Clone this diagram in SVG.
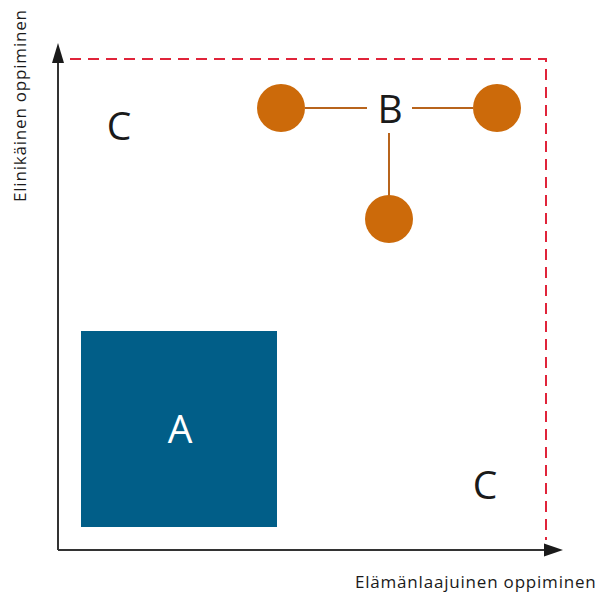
<svg xmlns="http://www.w3.org/2000/svg" width="598" height="596" viewBox="0 0 598 596">
  <style>
    .axis { stroke: #333333; stroke-width: 2; fill: none; }
    .bound { stroke: #e0243a; stroke-width: 2; stroke-dasharray: 11 7; fill: none; }
    .link { stroke: #b8641c; stroke-width: 2; }
    .dot { fill: #cc6a0a; }
    .lbl { font-family: "Open Sans", "Liberation Sans", sans-serif; fill: #1a1a1a; }
    .big { font-size: 39px; text-anchor: middle; }
    .ax { font-size: 17px; letter-spacing: 0.8px; }
  </style>
  <rect width="598" height="596" fill="#ffffff"/>

  <!-- boundary of region C -->
  <path class="bound" d="M70,59 H546 V540"/>

  <!-- axes -->
  <g id="axes">
    <path d="M58,550 V62" class="axis"/>
    <path d="M52,63 L58,43 L64,63 z" fill="#1a1a1a"/>
    <path d="M58,550 H546" class="axis"/>
    <path d="M544,543.5 L563,550 L544,556.5 z" fill="#1a1a1a"/>
  </g>

  <text class="lbl ax" transform="translate(26,202) rotate(-90)">Elinikäinen oppiminen</text>
  <text class="lbl ax" x="355" y="588">Elämänlaajuinen oppiminen</text>

  <!-- region A -->
  <g id="nodeA">
    <rect x="81" y="331" width="196" height="196" fill="#015e88"/>
    <text class="lbl big" x="180" y="443" style="fill:#ffffff">A</text>
  </g>

  <!-- region C labels -->
  <g id="nodeC1"><text class="lbl big" x="119" y="140">C</text></g>
  <g id="nodeC2"><text class="lbl big" x="485" y="499">C</text></g>

  <!-- connectors of B -->
  <g id="connectors">
    <line class="link" x1="305" y1="108" x2="367" y2="108"/>
    <line class="link" x1="412" y1="108" x2="473" y2="108"/>
    <line class="link" x1="389" y1="133" x2="389" y2="196"/>
  </g>

  <g id="nodeB"><text class="lbl big" x="390" y="123">B</text></g>
  <g id="dotLeft"><circle class="dot" cx="281" cy="108" r="24"/></g>
  <g id="dotRight"><circle class="dot" cx="497" cy="108" r="24"/></g>
  <g id="dotBottom"><circle class="dot" cx="389" cy="219" r="24"/></g>
</svg>
